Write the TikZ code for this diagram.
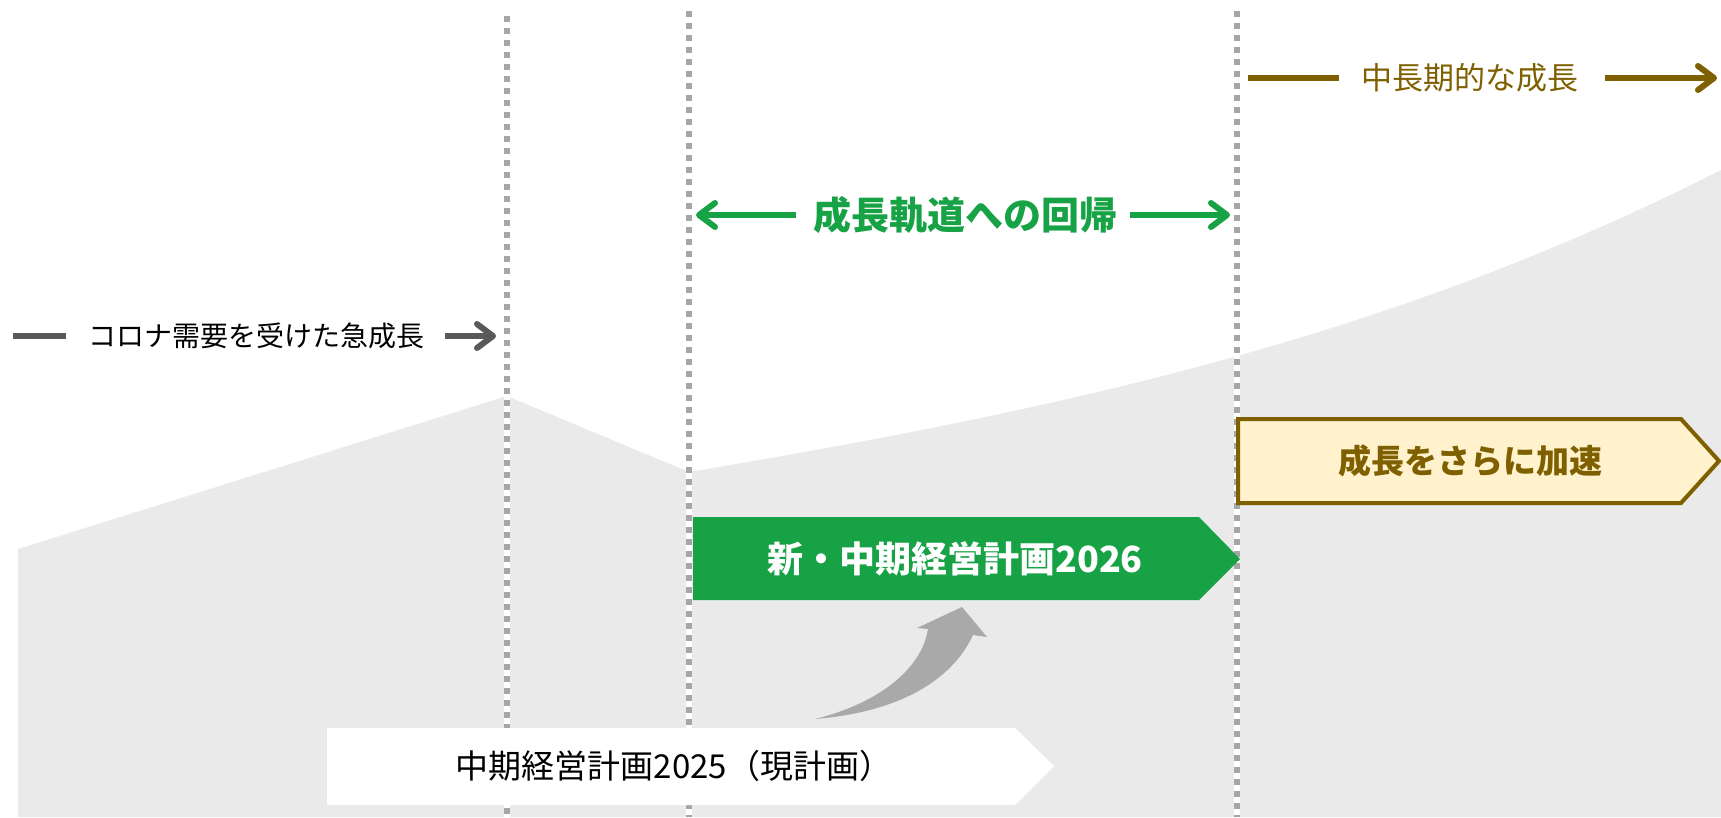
\documentclass[tikz,border=0pt]{standalone}
\usepackage{fontspec}
\newfontfamily\jp{Noto Sans CJK JP}
\usetikzlibrary{arrows.meta}
\definecolor{areagray}{HTML}{EAEAEA}
\definecolor{dotgray}{HTML}{A6A6A6}
\definecolor{darkgray}{HTML}{595959}
\definecolor{mygreen}{RGB}{23,162,70}
\definecolor{mybrown}{HTML}{7F6000}
\definecolor{myyellow}{HTML}{FFF2CC}
\definecolor{curvegray}{HTML}{A9A9A9}
\tikzset{
  vbase/.style={draw=white,line width=6pt},
  vdots/.style={draw=dotgray,line width=6pt,dash pattern=on 6pt off 6pt},
  barline/.style={line width=6pt},
  barrow/.style={line width=6pt,-{Straight Barb[length=16pt,width=24pt,round]}},
  lbl/.style={inner sep=0pt,font=\jp\fontsize{#1}{#1}\selectfont},
}
\begin{document}
\begin{tikzpicture}[x=1pt,y=-1pt]
\useasboundingbox (0,0) rectangle (1721,817);
% gray area
\fill[areagray] (18,817) -- (18,549) -- (507,396) -- (689,472)
  .. controls (1033,414) and (1377,345) .. (1721,170) -- (1721,817) -- cycle;
% vertical dotted lines
\coordinate (v1t) at (507,16);  \coordinate (v1b) at (507,817);
\coordinate (v2t) at (689,11);  \coordinate (v2b) at (689,817);
\coordinate (v3t) at (1237,11); \coordinate (v3b) at (1237,817);
\foreach \a/\b in {v1t/v1b,v2t/v2b,v3t/v3b}{
  \draw[vbase] (\a) -- (\b);
  \draw[vdots] (\a) -- (\b);
}
% white box (current plan)
\fill[white] (327,728) -- (1015,728) -- (1054,766) -- (1015,805) -- (327,805) -- cycle;
\node[lbl=33, text=black] (cur) at (674,766) {中期経営計画2025（現計画）};
% green box (new plan)
\fill[mygreen] (693,517) -- (1199,517) -- (1240,559) -- (1199,600) -- (693,600) -- cycle;
\node[lbl=36, text=white, font=\jp\bfseries\fontsize{36}{36}\selectfont] (new) at (955,559) {新・中期経営計画2026};
% yellow box
\draw[mybrown, line width=4pt, fill=myyellow, line join=miter]
  (1238,419) -- (1681,419) -- (1719,461) -- (1681,503) -- (1238,503) -- cycle;
\node[lbl=33, text=mybrown, font=\jp\bfseries\fontsize{33}{33}\selectfont] (acc) at (1470,461) {成長をさらに加速};
% curved gray arrow
\fill[curvegray] (815,719) .. controls (880,703) and (922,668) .. (928,629)
  -- (917,628) -- (962,607) -- (987,637) -- (973,635)
  .. controls (952,680) and (900,712) .. (815,719) -- cycle;
% corona label
\node[lbl=28, text=black] (corona) at (256,336) {コロナ需要を受けた急成長};
\coordinate (c1) at (13,336); \coordinate (c2) at (66,336);
\coordinate (c3) at (445,336); \coordinate (c4) at (496,336);
\draw[darkgray, barline] (c1) -- (c2);
\draw[darkgray, barrow] (c3) -- (c4);
% return to growth
\node[lbl=38, text=mygreen, font=\jp\bfseries\fontsize{38}{38}\selectfont] (ret) at (965,215) {成長軌道への回帰};
\coordinate (g1) at (796,215); \coordinate (g2) at (696,215);
\coordinate (g3) at (1130,215); \coordinate (g4) at (1230,215);
\draw[mygreen, barrow] (g1) -- (g2);
\draw[mygreen, barrow] (g3) -- (g4);
% mid-long term growth
\node[lbl=31, text=mybrown] (mid) at (1470,78) {中長期的な成長};
\coordinate (b1) at (1248,78); \coordinate (b2) at (1339,78);
\coordinate (b3) at (1605,78); \coordinate (b4) at (1717,78);
\draw[mybrown, barline] (b1) -- (b2);
\draw[mybrown, barrow] (b3) -- (b4);
\end{tikzpicture}
\end{document}
